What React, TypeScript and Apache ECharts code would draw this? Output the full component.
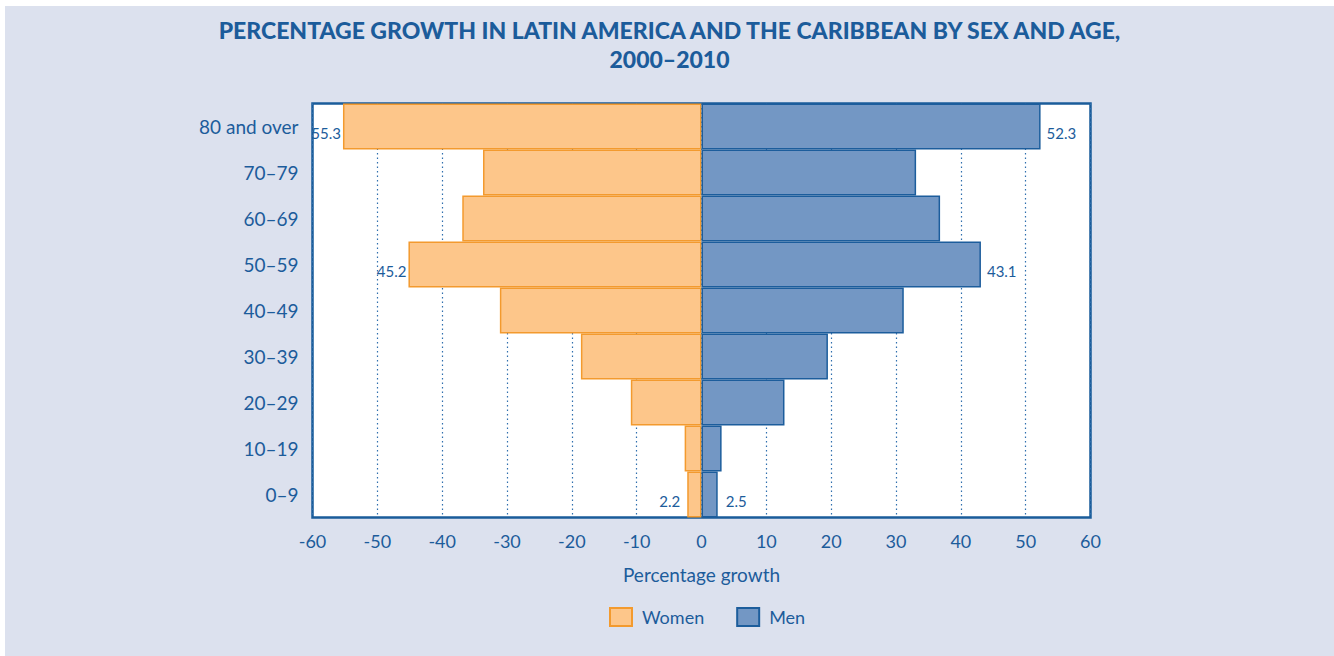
import React, { useEffect, useRef } from "react";
import * as echarts from "echarts";

const ageGroups = ["0–9", "10–19", "20–29", "30–39", "40–49", "50–59", "60–69", "70–79", "80 and over"];
const womenGrowth = [2.2, 2.6, 10.9, 18.6, 31.1, 45.2, 36.9, 33.7, 55.3];
const menGrowth = [2.5, 3.1, 12.8, 19.5, 31.2, 43.1, 36.8, 33.1, 52.3];
const labelledAges = ["0–9", "50–59", "80 and over"];
const xTicks = { min: -60, max: 60, step: 10 };
const titleText = "PERCENTAGE GROWTH IN LATIN AMERICA AND THE CARIBBEAN BY SEX AND AGE,\n2000–2010";
const xAxisName = "Percentage growth";
const seriesNames = ["Women", "Men"];

const TEXT = "#1C5C9B";
const FONT = "Lato, 'Open Sans', sans-serif";

export default function App() {
  const ref = useRef<HTMLDivElement>(null);

  useEffect(() => {
    if (!ref.current) return;
    const chart = echarts.init(ref.current, undefined, { renderer: "svg" });

    const womenDist: Record<string, number> = { "0–9": 7, "50–59": 2, "80 and over": 2 };
    const menDist: Record<string, number> = { "0–9": 8, "50–59": 6, "80 and over": 6 };

    const labelStyle = {
      color: TEXT,
      fontFamily: FONT,
      fontSize: 15,
      offset: [0, 6],
      formatter: (p: any) => String(Math.abs(p.value)),
    };

    const womenData = ageGroups.map((age, i) => {
      const show = labelledAges.includes(age);
      return {
        value: -womenGrowth[i],
        label: show
          ? { show: true, position: "left", distance: womenDist[age], ...labelStyle }
          : { show: false },
      };
    });
    const menData = ageGroups.map((age, i) => {
      const show = labelledAges.includes(age);
      return {
        value: menGrowth[i],
        label: show
          ? { show: true, position: "right", distance: menDist[age], ...labelStyle }
          : { show: false },
      };
    });

    chart.setOption({
      animation: false,
      backgroundColor: "#DCE1EE",
      textStyle: { fontFamily: FONT },
      title: {
        text: titleText,
        left: "center",
        top: 4,
        textStyle: {
          color: TEXT,
          fontFamily: FONT,
          fontWeight: 900,
          fontSize: 23,
          lineHeight: 29,
        },
      },
      legend: {
        data: seriesNames,
        bottom: 24,
        left: 599,
        itemWidth: 22,
        itemHeight: 18,
        itemGap: 32,
        textStyle: { color: TEXT, fontFamily: FONT, fontSize: 18, padding: [0, 0, 0, 5] },
        icon: "rect",
      },
      grid: {
        left: 307.5,
        right: 243.5,
        top: 97.5,
        bottom: 138.5,
        show: true,
        backgroundColor: "#FFFFFF",
        borderColor: "#1A5C9A",
        borderWidth: 2.5,
        containLabel: false,
      },
      xAxis: {
        type: "value",
        min: xTicks.min,
        max: xTicks.max,
        interval: xTicks.step,
        name: xAxisName,
        nameLocation: "middle",
        nameGap: 47,
        nameTextStyle: { color: TEXT, fontFamily: FONT, fontSize: 19 },
        axisLine: { show: false },
        axisTick: { show: false },
        axisLabel: { color: TEXT, fontFamily: FONT, fontSize: 18, margin: 14 },
        splitLine: {
          show: true,
          lineStyle: { color: "#2F6FAE", type: [1.5, 3], width: 1.2 },
        },
      },
      yAxis: {
        type: "category",
        data: ageGroups,
        axisLine: { show: false },
        axisTick: { show: false },
        axisLabel: { color: TEXT, fontFamily: FONT, fontSize: 19, margin: 14 },
        splitLine: { show: false },
      },
      series: [
        {
          name: seriesNames[0],
          type: "bar",
          data: womenData,
          barGap: "-100%",
          barCategoryGap: "0%",
          itemStyle: { color: "#FDC68A", borderColor: "#F39A2E", borderWidth: 1.5 },
        },
        {
          name: seriesNames[1],
          type: "bar",
          data: menData,
          barGap: "-100%",
          barCategoryGap: "0%",
          itemStyle: { color: "#7397C4", borderColor: "#1C5D9C", borderWidth: 1.5 },
        },
      ],
    });

    return () => chart.dispose();
  }, []);

  return (
    <div style={{ position: "fixed", left: 0, top: 0, width: 1334, height: 656, background: "#FFFFFF" }}>
      <div ref={ref} style={{ position: "absolute", left: 5, top: 6, width: 1329, height: 650 }} />
    </div>
  );
}
